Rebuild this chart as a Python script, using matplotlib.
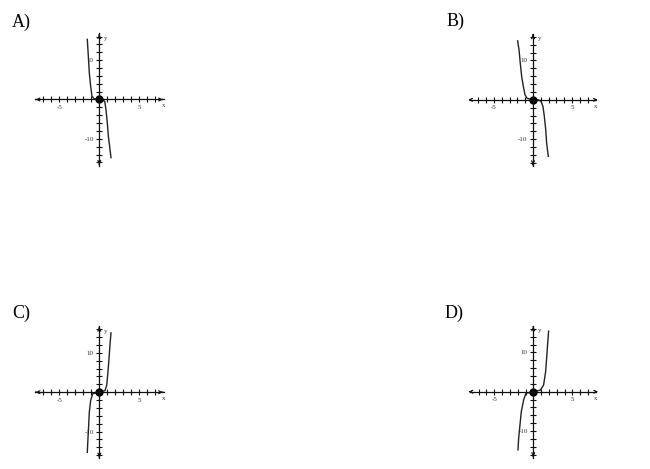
import matplotlib
matplotlib.use("Agg")
import matplotlib.pyplot as plt

plt.rcParams['font.family'] = ['Liberation Serif', 'DejaVu Serif']

# points (x, y)
a_x = [-1.5, -1.37, -1.25, -1.08, -0.92, -0.6, 0, 0.67, 0.83, 1.0, 1.13, 1.29, 1.46]
a_y = [15.3, 11.0, 6.8, 3.4, 0.85, 0.1, 0, -0.4, -2.5, -5.9, -9.3, -11.9, -14.8]

b_x = [-1.97, -1.79, -1.63, -1.45, -1.24, -1.03, -0.77, 0, 0.68, 1.03, 1.28, 1.45, 1.63, 1.75, 1.96]
b_y = [15.0, 12.7, 9.3, 5.9, 3.4, 1.3, 0.4, 0, 0, -0.4, -1.7, -4.2, -7.6, -11.0, -14.4]

c_x = [-1.5, -1.42, -1.33, -1.25, -1.08, -0.83, 0, 0.71, 0.92, 1.08, 1.21, 1.33, 1.46]
c_y = [-15.3, -11.9, -8.5, -5.1, -2.1, -0.4, 0, 0.4, 1.7, 5.1, 8.5, 11.9, 15.1]

d_x = [-1.96, -1.88, -1.71, -1.54, -1.24, -0.94, 0, 0.9, 1.32, 1.58, 1.71, 1.83, 1.96]
d_y = [-14.8, -11.9, -8.5, -5.1, -2.1, -0.4, 0, 0.4, 1.7, 5.1, 8.5, 11.9, 15.4]

letters = ['A)', 'B)', 'C)', 'D)']
curves = [(a_x, a_y), (b_x, b_y), (c_x, c_y), (d_x, d_y)]

x_ticks = [-7, -6, -5, -4, -3, -2, -1, 1, 2, 3, 4, 5, 6, 7]
y_ticks = [-16, -14, -12, -10, -8, -6, -4, -2, 2, 4, 6, 8, 10, 12, 14, 16]

W, H = 650, 469
fig = plt.figure(figsize=(6.5, 4.69), dpi=100)

# pixel origin of each panel, px per x unit, letter position
panels = [
    ((99.3, 99.5), 8.0, (12, 14)),
    ((533.0, 99.8), 7.8, (447, 13)),
    ((99.3, 392.2), 8.0, (12, 305)),
    ((533.3, 391.7), 7.8, (445, 305)),
]
py = 3.93  # px per y unit
half_w, half_h = 72, 72

for (origin, px, lpos), letter, (cx, cy) in zip(panels, letters, curves):
    ox, oy = origin
    ax = fig.add_axes([(ox - half_w) / W, (H - oy - half_h) / H,
                       2 * half_w / W, 2 * half_h / H])
    ax.set_xlim(-half_w / px, half_w / px)
    ax.set_ylim(-half_h / py, half_h / py)
    ax.patch.set_visible(False)
    for s in ['top', 'right']:
        ax.spines[s].set_visible(False)
    ax.spines['left'].set_position('zero')
    ax.spines['bottom'].set_position('zero')
    ax.spines['bottom'].set_bounds(-8.1, 8.1)
    ax.spines['left'].set_bounds(-16.8, 16.8)
    for s in ['left', 'bottom']:
        ax.spines[s].set_linewidth(0.9)
        ax.spines[s].set_color('#111111')

    ax.set_xticks(x_ticks)
    ax.set_xticklabels(['-5' if t == -5 else '5' if t == 5 else '' for t in x_ticks])
    ax.set_yticks(y_ticks)
    ax.set_yticklabels(['-10' if t == -10 else '10' if t == 10 else '' for t in y_ticks])
    ax.tick_params(direction='inout', length=5, width=0.8, labelsize=5, pad=1.5,
                   colors='#111111', labelcolor='#333333')

    # arrow heads
    ap = dict(arrowstyle='->', lw=0.9, color='#111111', mutation_scale=5)
    ax.annotate('', xy=(8.3, 0), xytext=(7.6, 0), arrowprops=ap)
    ax.annotate('', xy=(-8.3, 0), xytext=(-7.6, 0), arrowprops=ap)
    ax.annotate('', xy=(0, 17.3), xytext=(0, 15.8), arrowprops=ap)
    ax.annotate('', xy=(0, -17.3), xytext=(0, -15.8), arrowprops=ap)

    ax.text(8.0, -1.0, 'x', fontsize=5, ha='center', va='top', color='#333333')
    ax.text(0.6, 15.5, 'y', fontsize=5, ha='left', va='center', color='#333333')

    ax.plot(cx, cy, color='#222222', lw=1.0)
    ax.plot([0], [0], 'o', color='black', ms=5)

    fig.text(lpos[0] / W, 1 - lpos[1] / H, letter, fontsize=13, ha='left', va='top')

fig.savefig('out.png', dpi=100)
